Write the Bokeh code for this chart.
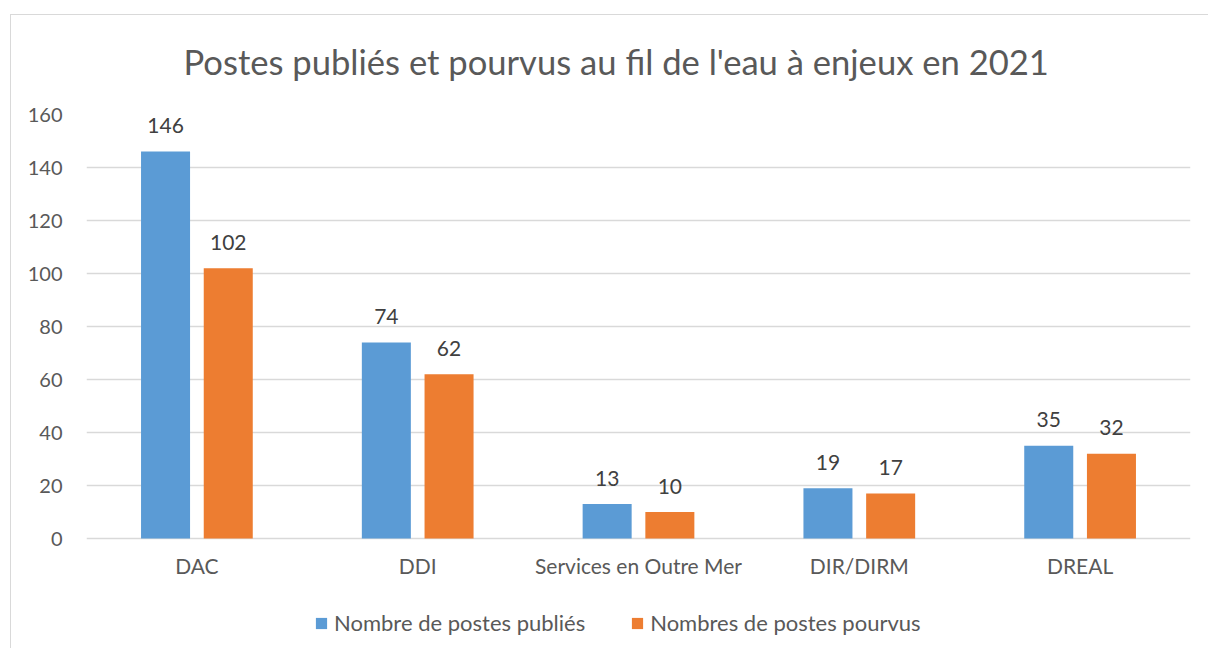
from bokeh.plotting import figure
from bokeh.models import Range1d, FixedTicker, Legend, LegendItem, Title, ColumnDataSource
from bokeh.core.properties import value
from bokeh.embed import file_html
from bokeh.resources import INLINE

title_text = "Postes publiés et pourvus au fil de l'eau à enjeux en 2021"
categories = ["DAC", "DDI", "Services en Outre Mer", "DIR/DIRM", "DREAL"]
publies = [146, 74, 13, 19, 35]
pourvus = [102, 62, 10, 17, 32]
series_names = ["Nombre de postes publiés", "Nombres de postes pourvus"]
y_ticks = [0, 20, 40, 60, 80, 100, 120, 140, 160]

BLUE = "#5B9BD5"
ORANGE = "#ED7D31"
FONT = "Lato"

# layout (pixels): value axis 0..160 spans 424 px; frame extends 110 px below 0
AXIS_PX = 424
BELOW_PX = 110
y_max = 160
y_min = -BELOW_PX * y_max / AXIS_PX

xc = [i + 0.5 for i in range(len(categories))]
dodge = 0.142
bw = 0.222

p = figure(frame_width=1104, frame_height=AXIS_PX + BELOW_PX, output_backend="svg",
           toolbar_location=None,
           x_range=Range1d(0, len(categories)), y_range=Range1d(y_min, y_max),
           min_border_left=75, min_border_right=18, min_border_top=99, min_border_bottom=0,
           outline_line_color=None, title=None)
p.styles = {"margin-left": "10px", "margin-top": "14px",
            "border-left": "1px solid #d9d9d9", "border-top": "1px solid #d9d9d9"}

src_a = ColumnDataSource(dict(x=[v - dodge for v in xc], y=publies, t=[str(v) for v in publies]))
src_b = ColumnDataSource(dict(x=[v + dodge for v in xc], y=pourvus, t=[str(v) for v in pourvus]))
src_c = ColumnDataSource(dict(x=xc, y=[0] * len(xc), t=categories))

ra = p.vbar(x="x", top="y", width=bw, source=src_a, fill_color=BLUE, line_color=None)
rb = p.vbar(x="x", top="y", width=bw, source=src_b, fill_color=ORANGE, line_color=None)

for s in (src_a, src_b):
    p.text(x="x", y="y", text="t", source=s, y_offset=-26, text_align="center",
           text_baseline="middle", text_font=value(FONT), text_font_size="21px",
           text_color="#404040")

# category labels
p.text(x="x", y="y", text="t", source=src_c, y_offset=27, text_align="center",
       text_baseline="middle", text_font=value(FONT), text_font_size="21px",
       text_color="#595959")

p.xaxis.visible = False

p.yaxis.ticker = FixedTicker(ticks=y_ticks)
p.yaxis.axis_line_color = None
p.yaxis.major_tick_line_color = None
p.yaxis.minor_tick_line_color = None
p.yaxis.major_tick_out = 0
p.yaxis.major_label_standoff = 24
p.yaxis.major_label_text_font = FONT
p.yaxis.major_label_text_font_size = "20px"
p.yaxis.major_label_text_color = "#595959"

p.xgrid.grid_line_color = None
p.ygrid.grid_line_color = "#d9d9d9"
p.ygrid.grid_line_width = 1.5

# title
p.add_layout(Title(text=title_text, align="left", offset=97, standoff=42,
                   padding=dict(left=0, right=0, top=0, bottom=12),
                   text_font=FONT, text_font_size="34.6px", text_font_style="normal",
                   text_color="#595959"), "above")

legend = Legend(items=[LegendItem(label=series_names[0], renderers=[ra]),
                       LegendItem(label=series_names[1], renderers=[rb])],
                orientation="horizontal", location=(228, 12),
                padding=0, margin=0, spacing=45, label_standoff=6,
                glyph_width=14, glyph_height=14,
                label_text_font=FONT, label_text_font_size="22px",
                label_text_color="#595959", border_line_color=None,
                background_fill_alpha=0)
p.add_layout(legend, "center")

open("out.html", "w").write(file_html(p, INLINE))
